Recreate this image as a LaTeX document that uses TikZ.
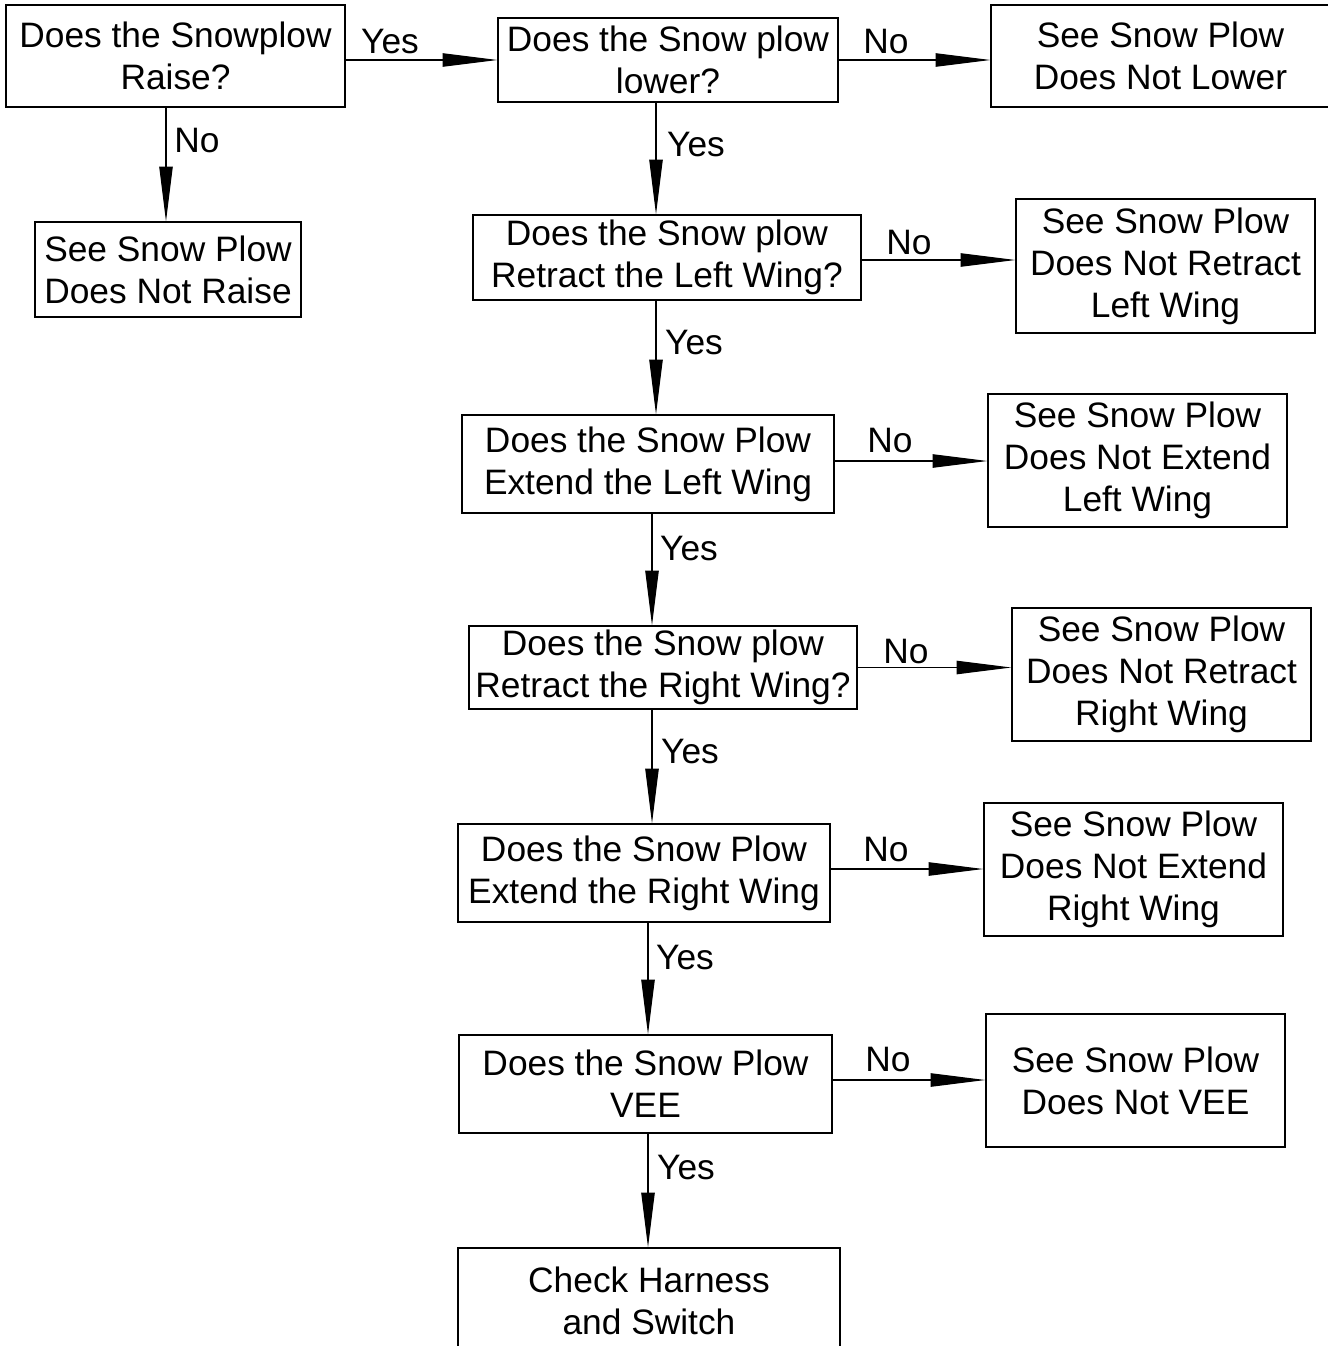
\documentclass[tikz,border=0pt]{standalone}
\usepackage{fontspec}
\setmainfont{Liberation Sans}
\usetikzlibrary{arrows.meta}
\begin{document}
\begin{tikzpicture}[x=0.75pt,y=-0.75pt,
  box/.style={draw,line width=0.9pt,inner sep=0pt,align=center,font=\fontsize{26.5}{31.5}\selectfont},
  lbl/.style={inner sep=0pt,font=\fontsize{26.5}{31.5}\selectfont},
  arr/.style={line width=0.9pt,-{Triangle[length=41pt,width=10pt]}}]
\useasboundingbox (0,0) rectangle (1328,1346);
\clip (0,0) rectangle (1328,1346);
\fill[white] (0,0) rectangle (1328,1346);

% boxes
\node[box,minimum width=254.25pt,minimum height=76.5pt] (raise) at (175.5,56) {Does the Snowplow\\Raise?};
\node[box,minimum width=255pt,minimum height=63pt] (lower) at (668,60) {Does the Snow plow\\lower?};
\node[box,minimum width=254.25pt,minimum height=76.5pt] (seelower) at (1160.5,56) {See Snow Plow\\Does Not Lower};
\node[box,minimum width=199.5pt,minimum height=71.25pt] (seeraise) at (168,269.5) {See Snow Plow\\Does Not Raise};
\node[box,minimum width=291pt,minimum height=63.75pt] (retl) at (667,257.5) {Does the Snow plow\\Retract the Left Wing?};
\node[box,minimum width=224.25pt,minimum height=100.5pt] (seeretl) at (1165.5,266) {See Snow Plow\\Does Not Retract\\Left Wing};
\node[box,minimum width=279pt,minimum height=73.5pt] (extl) at (648,464) {Does the Snow Plow\\Extend the Left Wing};
\node[box,minimum width=224.25pt,minimum height=99.75pt] (seeextl) at (1137.5,460.5) {See Snow Plow\\Does Not Extend\\Left Wing};
\node[box,minimum width=291pt,minimum height=62.25pt] (retr) at (663,667.5) {Does the Snow plow\\Retract the Right Wing?};
\node[box,minimum width=224.25pt,minimum height=99.75pt] (seeretr) at (1161.5,674.5) {See Snow Plow\\Does Not Retract\\Right Wing};
\node[box,minimum width=279pt,minimum height=73.5pt] (extr) at (644,873) {Does the Snow Plow\\Extend the Right Wing};
\node[box,minimum width=224.25pt,minimum height=99.75pt] (seeextr) at (1133.5,869.5) {See Snow Plow\\Does Not Extend\\Right Wing};
\node[box,minimum width=279.75pt,minimum height=73.5pt] (vee) at (645.5,1084) {Does the Snow Plow\\VEE};
\node[box,minimum width=224.25pt,minimum height=99.75pt] (seevee) at (1135.5,1080.5) {See Snow Plow\\Does Not VEE};
\node[box,minimum width=286.5pt,minimum height=79.5pt] (check) at (649,1301) {Check Harness\\and Switch};

% horizontal connectors
\draw[arr] (raise.east |- lower.west) -- (lower.west);
\draw[arr] (lower.east) -- (lower.east -| seelower.west);
\draw[arr] ([yshift=-1.875pt]retl.east) -- ([yshift=-1.875pt]retl.east -| seeretl.west);
\draw[arr] ([yshift=2.25pt]extl.east) -- ([yshift=2.25pt]extl.east -| seeextl.west);
\draw[arr] (retr.east) -- (retr.east -| seeretr.west);
\draw[arr] ([yshift=3pt]extr.east) -- ([yshift=3pt]extr.east -| seeextr.west);
\draw[arr] ([yshift=3pt]vee.east) -- ([yshift=3pt]vee.east -| seevee.west);

% vertical connectors
\draw[arr] ([xshift=-7.125pt]raise.south) -- ([xshift=-7.125pt]raise.south |- seeraise.north);
\draw[arr] ([xshift=-9pt]lower.south) -- ([xshift=-9pt]lower.south |- retl.north);
\draw[arr] ([xshift=-8.25pt]retl.south) -- ([xshift=-8.25pt]retl.south |- extl.north);
\draw[arr] ([xshift=3pt]extl.south) -- ([xshift=3pt]extl.south |- retr.north);
\draw[arr] ([xshift=-8.25pt]retr.south) -- ([xshift=-8.25pt]retr.south |- extr.north);
\draw[arr] ([xshift=3pt]extr.south) -- ([xshift=3pt]extr.south |- vee.north);
\draw[arr] ([xshift=1.875pt]vee.south) -- ([xshift=1.875pt]vee.south |- check.north);

% labels
\node[lbl] (yes1) at (390,42) {Yes};
\node[lbl] (no1) at (886,42) {No};
\node[lbl] (no2) at (197,141) {No};
\node[lbl] (yes2) at (696,145) {Yes};
\node[lbl] (no3) at (909,243) {No};
\node[lbl] (yes3) at (694,343) {Yes};
\node[lbl] (no4) at (890,441) {No};
\node[lbl] (yes4) at (689,549) {Yes};
\node[lbl] (no5) at (906,652) {No};
\node[lbl] (yes5) at (690,752) {Yes};
\node[lbl] (no6) at (886,850) {No};
\node[lbl] (yes6) at (685,958) {Yes};
\node[lbl] (no7) at (888,1060) {No};
\node[lbl] (yes7) at (686,1168) {Yes};
\end{tikzpicture}
\end{document}
